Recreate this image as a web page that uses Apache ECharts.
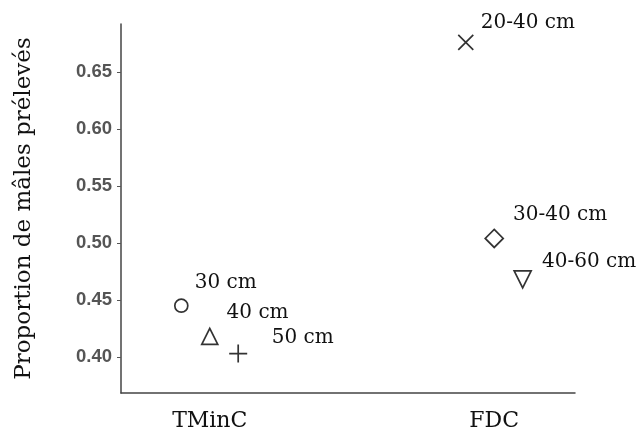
<!DOCTYPE html>
<html><head><meta charset="utf-8">
<script src="https://cdn.jsdelivr.net/npm/echarts@6/dist/echarts.min.js"></script>
<style>html,body{margin:0;padding:0;background:#fff}#c{width:643px;height:440px}</style>
</head><body><div id="c"></div>
<script>
const categories = ["TMinC", "FDC"];
const pointLabels = ["30 cm", "40 cm", "50 cm", "20-40 cm", "30-40 cm", "40-60 cm"];
const pointGroup = [0, 0, 0, 1, 1, 1];
const pointDodge = [-0.1, 0, 0.1, -0.1, 0, 0.1];
const pointValues = [0.445, 0.418, 0.403, 0.676, 0.504, 0.468];
const yTicks = [0.40, 0.45, 0.50, 0.55, 0.60, 0.65];

const symbols = ['circle', 'triangle', 'path://M0,5L10,5M5,0L5,10', 'path://M0,0L10,10M10,0L0,10', 'diamond', 'triangle'];
const symbolSizes = [13, 16, 18, 15, 18, 17];
const rotates = [0, 0, 0, 0, 0, 180];
const labelOffsets = [[1, -23], [3, -24], [17, -16], [0, -20], [4, -24], [5, -18]];

const serif = '"DejaVu Serif", "Liberation Serif", serif';
const series = pointValues.map((v, i) => ({
  type: 'scatter',
  data: [[pointGroup[i] + 1 + pointDodge[i], v]],
  symbol: symbols[i],
  symbolSize: symbolSizes[i],
  symbolRotate: rotates[i],
  itemStyle: { color: (i === 2 || i === 3) ? 'none' : '#fff', borderColor: '#333', borderWidth: 1.7, opacity: 1 },
  label: {
    show: true, position: 'right', offset: labelOffsets[i],
    formatter: pointLabels[i], fontFamily: serif, fontSize: 20, color: '#111'
  },
  emphasis: { disabled: true }
}));

const chart = echarts.init(document.getElementById('c'));
chart.setOption({
  animation: false,
  grid: { left: 121, right: 68, top: 24, bottom: 47 },
  xAxis: {
    type: 'value', min: 0.688, max: 2.284,
    splitLine: { show: false },
    axisLine: { lineStyle: { color: '#444', width: 1.5 } },
    axisTick: { show: false },
    axisLabel: {
      customValues: [1, 2],
      formatter: v => categories[Math.round(v) - 1] || '',
      fontFamily: serif, fontSize: 22, color: '#111', margin: 17
    }
  },
  yAxis: {
    type: 'value', min: 0.3684, max: 0.6921,
    name: 'Proportion de mâles prélevés',
    nameLocation: 'middle', nameGap: 85,
    nameTextStyle: { fontFamily: serif, fontSize: 23, color: '#111' },
    splitLine: { show: false },
    axisLine: { show: true, lineStyle: { color: '#444', width: 1.5 } },
    axisTick: { show: true, customValues: yTicks, length: 4, lineStyle: { color: '#555' } },
    axisLabel: {
      customValues: yTicks,
      formatter: v => v.toFixed(2),
      fontFamily: '"Liberation Sans", Arial, sans-serif', fontWeight: 'bold',
      fontSize: 18.5, color: '#555', margin: 9
    }
  },
  series: series
});
</script></body></html>
